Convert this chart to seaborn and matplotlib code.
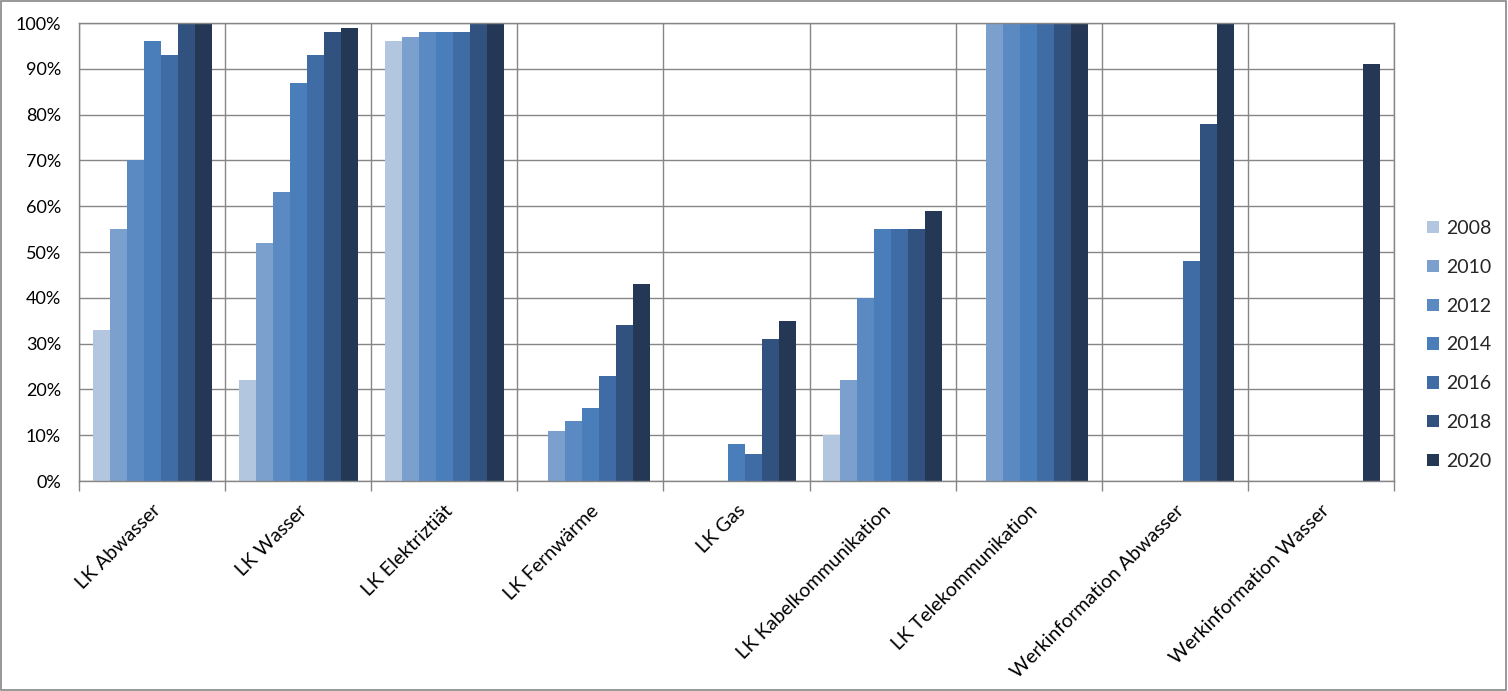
import numpy as np
import pandas as pd
import seaborn as sns
import matplotlib.pyplot as plt
from matplotlib.patches import Rectangle
from matplotlib.ticker import PercentFormatter

categories = ['LK Abwasser', 'LK Wasser', 'LK Elektriztiät', 'LK Fernwärme', 'LK Gas',
              'LK Kabelkommunikation', 'LK Telekommunikation',
              'Werkinformation Abwasser', 'Werkinformation Wasser']
years = ['2008', '2010', '2012', '2014', '2016', '2018', '2020']

v2008 = [33, 22, 96, 0, 0, 10, 0, 0, 0]
v2010 = [55, 52, 97, 11, 0, 22, 100, 0, 0]
v2012 = [70, 63, 98, 13, 0, 40, 100, 0, 0]
v2014 = [96, 87, 98, 16, 8, 55, 100, 0, 0]
v2016 = [93, 93, 98, 23, 6, 55, 100, 48, 0]
v2018 = [100, 98, 100, 34, 31, 55, 100, 78, 0]
v2020 = [100, 99, 100, 43, 35, 59, 100, 100, 91]

colors = ['#b3c6e0', '#7ba0cd', '#5b8ac3', '#4a7ebb', '#3f6ca5', '#31527f', '#243855']

series = [v2008, v2010, v2012, v2014, v2016, v2018, v2020]
rows = []
for y, vals in zip(years, series):
    for c, v in zip(categories, vals):
        rows.append({'Kategorie': c, 'Jahr': y, 'Wert': v})
df = pd.DataFrame(rows)

sns.set_style('white')
plt.rcParams['font.family'] = ['Lato', 'DejaVu Sans']
grid_col = '#868686'

fig = plt.figure(figsize=(15.08, 6.91), dpi=100)
ax = fig.add_axes([0.0524, 0.3039, 0.9244 - 0.0524, 0.9667 - 0.3039])

sns.barplot(data=df, x='Kategorie', y='Wert', hue='Jahr', order=categories,
            hue_order=years, palette=colors, width=0.815, gap=0,
            saturation=1, linewidth=0, ax=ax)

ax.set_ylim(0, 100)
ax.set_xlim(-0.5, len(categories) - 0.5)
ax.set_yticks(np.arange(0, 101, 10))
ax.yaxis.set_major_formatter(PercentFormatter(decimals=0))
ax.set_xticks(np.arange(-0.5, len(categories), 1), minor=True)
ax.set_xticks(np.arange(len(categories)))
ax.set_xticklabels(categories, rotation=45, ha='right', rotation_mode='anchor')
ax.tick_params(axis='x', which='major', length=0, pad=15, labelsize=14, colors='black')
ax.tick_params(axis='x', which='minor', length=7, width=1, color=grid_col,
               direction='out', bottom=True)
ax.tick_params(axis='y', length=7, width=1, color=grid_col, direction='out',
               labelsize=13, pad=6, labelcolor='black')

ax.grid(True, axis='y', color=grid_col, linewidth=1)
ax.grid(True, axis='x', which='minor', color=grid_col, linewidth=1)
ax.grid(False, axis='x', which='major')
ax.set_axisbelow(True)
for s in ax.spines.values():
    s.set_color(grid_col)
    s.set_linewidth(1)

ax.set_xlabel('')
ax.set_ylabel('')

handles, labels = ax.get_legend_handles_labels()
ax.legend(handles, labels, loc='center left', bbox_to_anchor=(1.012, 0.297),
          frameon=False, fontsize=14, handlelength=0.6, handleheight=0.6,
          labelspacing=1.12, handletextpad=0.35)

fig.add_artist(Rectangle((0.0005, 0.001), 0.998, 0.997, transform=fig.transFigure,
                         fill=False, edgecolor=grid_col, linewidth=1.2))

fig.savefig('out.png', dpi=100)
